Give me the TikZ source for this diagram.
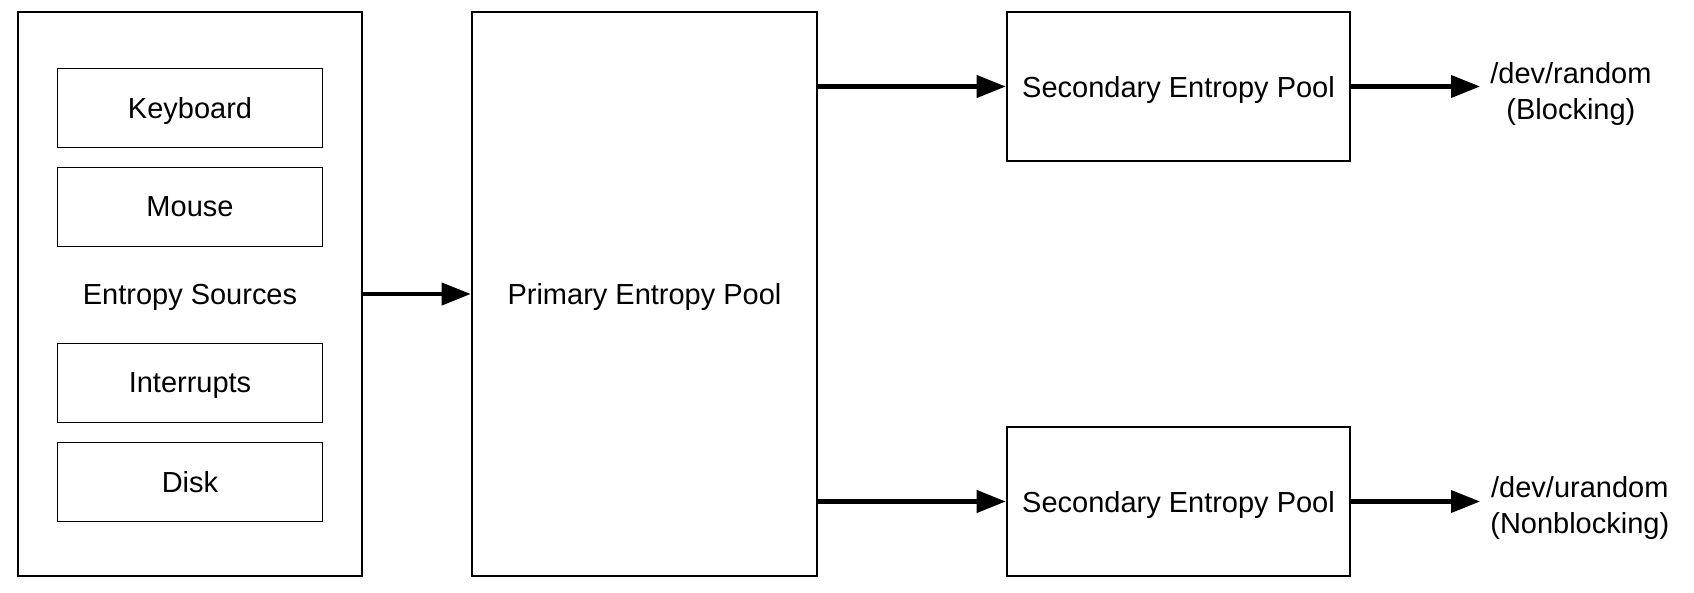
\documentclass[tikz,border=0pt]{standalone}
\usepackage{fontspec}
\setmainfont{Liberation Sans}
\usetikzlibrary{arrows.meta}
\begin{document}
\begin{tikzpicture}[x=0.02cm, y=-0.02cm, font=\fontsize{16.5}{20.5}\selectfont,
  every node/.append style={text depth=0pt},
  srcbox/.style={draw, line width=1pt, minimum width=5.3cm, minimum height=1.58cm},
  pool/.style={draw, line width=1.5pt},
  flow/.style={-{Triangle[length=0.58cm, width=0.44cm]}, line width=2.3pt}]
\useasboundingbox (0,0) rectangle (1694,592);
\node[draw, line width=1pt, minimum width=6.88cm, minimum height=11.28cm] (src) at (190,294) {Entropy Sources};
\node[srcbox] (kbd) at (190,108) {Keyboard};
\node[srcbox] (mouse) at (190,207) {Mouse};
\node[srcbox] (irq) at (190,383) {Interrupts};
\node[srcbox] (disk) at (190,482) {Disk};
\node[pool, minimum width=6.9cm, minimum height=11.28cm] (prim) at (644.5,294) {Primary Entropy Pool};
\node[pool, minimum width=6.86cm, minimum height=2.98cm] (secrnd) at (1178.5,86.5) {Secondary Entropy Pool};
\node[pool, minimum width=6.86cm, minimum height=2.98cm] (securnd) at (1178.5,501.5) {Secondary Entropy Pool};
\node[align=center, anchor=west, inner sep=0.2cm] (rnd) at (1480,91) {/dev/random\\(Blocking)};
\node[align=center, anchor=west, inner sep=0.2cm] (urnd) at (1480,505) {/dev/urandom\\(Nonblocking)};
\draw[flow] (src.east) -- (prim.west);
\draw[flow] (prim.east |- secrnd.west) -- (secrnd.west);
\draw[flow] (prim.east |- securnd.west) -- (securnd.west);
\draw[flow] (secrnd.east) -- (secrnd.east -| rnd.west);
\draw[flow] (securnd.east) -- (securnd.east -| urnd.west);
\end{tikzpicture}
\end{document}
